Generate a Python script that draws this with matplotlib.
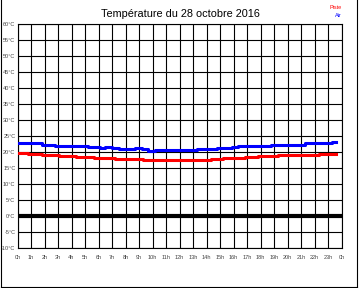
import matplotlib
matplotlib.use("Agg")
import matplotlib.pyplot as plt
from matplotlib.lines import Line2D

title = "Température du 28 octobre 2016"
x_ticks = list(range(0, 25))
x_labels = [f"{h % 24}h" for h in x_ticks]
y_ticks = list(range(-10, 61, 5))
y_labels = [f"{v}°C" for v in y_ticks]

air_t = [0, 1.8, 2.8, 5.2, 6.1, 6.5, 7.0, 7.5, 8.7, 9.2, 9.67, 10.2, 13.3, 14.8, 15.9, 16.3, 18.8, 21.3, 23.3, 23.6]
air_v = [22.7, 22.2, 21.9, 21.6, 21.25, 21.6, 21.3, 20.9, 21.1, 20.8, 20.4, 20.7, 21.0, 21.3, 21.6, 22.0, 22.3, 22.7, 23.0, 23.0]

piste_t = [0, 0.8, 1.8, 3.1, 4.3, 5.7, 7.2, 9.3, 14.3, 15.2, 16.85, 17.8, 19.3, 22.3, 23.6]
piste_v = [19.8, 19.5, 19.2, 18.8, 18.5, 18.2, 17.9, 17.5, 17.8, 18.2, 18.5, 18.8, 19.2, 19.5, 19.5]

W, H = 360, 288
fig = plt.figure(figsize=(3.6, 2.88), dpi=100)
fig.patch.set_facecolor("white")

left, right, top, bottom = 17.5, 341.5, 24, 248
ax = fig.add_axes([left / W, 1 - bottom / H, (right - left) / W, (bottom - top) / H])
ax.set_xlim(0, 24)
ax.set_ylim(-10, 60)
ax.set_xticks(x_ticks)
ax.set_xticklabels(x_labels)
ax.set_yticks(y_ticks)
ax.set_yticklabels(y_labels)
ax.tick_params(length=0, labelsize=4, colors="#444444")
ax.tick_params(axis="x", pad=5)
ax.tick_params(axis="y", pad=1.5)
for lab in ax.get_xticklabels() + ax.get_yticklabels():
    lab.set_family("Liberation Sans")
ax.grid(True, color="black", linewidth=0.8)
ax.set_axisbelow(True)
for s in ax.spines.values():
    s.set_color("black")
    s.set_linewidth(0.8)

ax.axhline(0, color="black", linewidth=3, zorder=3)
ax.plot(piste_t, piste_v, color="#ff0000", linewidth=2.2, drawstyle="steps-post", zorder=4)
ax.plot(air_t, air_v, color="#0000ff", linewidth=2.2, drawstyle="steps-post", zorder=4)

fig.text(180 / W, 1 - 14 / H, title, ha="center", va="center", fontsize=7.8,
         family="Liberation Sans", color="black")
fig.text(342 / W, 1 - 7.5 / H, "Piste", ha="right", va="center", fontsize=4,
         family="Liberation Sans", color="#ff0000")
fig.text(342 / W, 1 - 15.5 / H, "Air", ha="right", va="center", fontsize=4,
         family="Liberation Sans", color="#0000ff")

# outer frame
for xs, ys in [([0.5, 0.5], [0, 286.5]), ([0.5, 356.5], [286.5, 286.5]), ([356.5, 356.5], [0, 286.5])]:
    fig.add_artist(Line2D([x / W for x in xs], [1 - y / H for y in ys], color="black", linewidth=0.8))

fig.savefig("out.png", dpi=100, facecolor="white")
